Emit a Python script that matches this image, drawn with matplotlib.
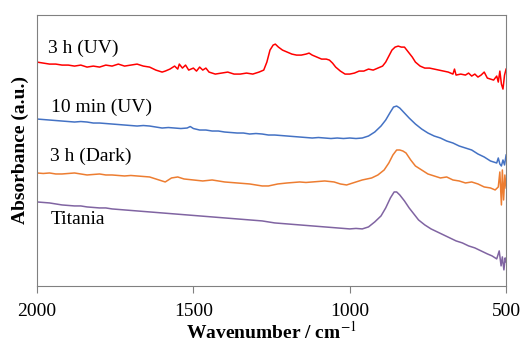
import matplotlib
matplotlib.use('Agg')
import matplotlib.pyplot as plt

plt.rcParams['font.family'] = ['Liberation Serif', 'DejaVu Serif']
plt.rcParams['mathtext.fontset'] = 'stix'

# wavenumber (cm-1) and absorbance (a.u., offset traces)
wn_uv3h = [2000, 1980, 1960, 1940, 1920, 1900, 1880, 1860, 1840, 1820, 1800, 1780, 1760, 1740,
           1720, 1700, 1680, 1660, 1640, 1620, 1600, 1590, 1575, 1560, 1550, 1545, 1535, 1525,
           1515, 1500, 1490, 1480, 1470, 1460, 1450, 1430, 1410, 1390, 1370, 1350, 1330, 1310,
           1290, 1275, 1265, 1255, 1245, 1238, 1228, 1215, 1200, 1185, 1170, 1155, 1140, 1130,
           1120, 1105, 1090, 1075, 1065, 1055, 1045, 1030, 1015, 1000, 985, 970, 955, 940, 925,
           910, 895, 885, 875, 865, 855, 845, 835, 825, 815, 800, 790, 775, 760, 745, 730, 715,
           700, 685, 670, 665, 660, 645, 630, 620, 610, 600, 590, 580, 570, 560, 550, 540, 530,
           525, 520, 515, 510, 505, 500]
uv3h = [2.24, 2.23, 2.22, 2.22, 2.21, 2.21, 2.20, 2.21, 2.19, 2.20, 2.19, 2.21, 2.20, 2.22,
        2.20, 2.21, 2.22, 2.20, 2.19, 2.16, 2.14, 2.15, 2.17, 2.20, 2.17, 2.22, 2.18, 2.21,
        2.16, 2.18, 2.15, 2.19, 2.16, 2.18, 2.14, 2.12, 2.13, 2.14, 2.12, 2.12, 2.13, 2.12,
        2.14, 2.16, 2.24, 2.36, 2.41, 2.42, 2.39, 2.36, 2.34, 2.32, 2.31, 2.31, 2.32, 2.33,
        2.31, 2.29, 2.27, 2.27, 2.26, 2.23, 2.19, 2.15, 2.12, 2.12, 2.13, 2.15, 2.15, 2.17, 2.16,
        2.18, 2.20, 2.24, 2.30, 2.36, 2.39, 2.40, 2.39, 2.39, 2.35, 2.29, 2.24, 2.20, 2.18, 2.18,
        2.17, 2.16, 2.15, 2.14, 2.12, 2.17, 2.11, 2.12, 2.11, 2.13, 2.10, 2.12, 2.09, 2.11, 2.14,
        2.08, 2.07, 2.06, 2.10, 2.04, 2.15, 2.02, 1.97, 2.11, 2.17]

wn_uv10 = [2000, 1980, 1960, 1940, 1920, 1900, 1880, 1860, 1840, 1820, 1800, 1780, 1760, 1740,
           1720, 1700, 1680, 1660, 1640, 1620, 1600, 1580, 1560, 1540, 1520, 1510, 1500, 1480,
           1460, 1440, 1420, 1400, 1380, 1360, 1340, 1320, 1300, 1280, 1260, 1240, 1220, 1200,
           1180, 1160, 1140, 1120, 1100, 1080, 1060, 1040, 1020, 1000, 980, 960,
           940, 920, 900, 885, 870, 860, 850, 840, 825, 810, 790, 770, 750, 730, 710, 690, 670,
           650, 630, 610, 590, 570, 550, 540, 530, 525, 520, 515, 510, 505, 500]
uv10 = [1.67, 1.665, 1.66, 1.655, 1.65, 1.645, 1.64, 1.645, 1.64, 1.63, 1.63, 1.625, 1.62, 1.615,
        1.61, 1.605, 1.60, 1.605, 1.60, 1.59, 1.58, 1.585, 1.58, 1.575, 1.58, 1.595, 1.575, 1.56,
        1.56, 1.55, 1.55, 1.54, 1.535, 1.53, 1.53, 1.52, 1.525, 1.52, 1.51, 1.51, 1.505, 1.50,
        1.495, 1.49, 1.485, 1.48, 1.485, 1.48, 1.475, 1.48, 1.475, 1.48, 1.475, 1.48,
        1.50, 1.54, 1.60, 1.66, 1.74, 1.79, 1.80, 1.78, 1.73, 1.68, 1.62, 1.57, 1.53, 1.50,
        1.48, 1.45, 1.43, 1.40, 1.38, 1.36, 1.32, 1.29, 1.25, 1.24, 1.23, 1.28, 1.22, 1.20,
        1.26, 1.21, 1.31]

wn_dark = [2000, 1980, 1960, 1940, 1920, 1900, 1880, 1860, 1840, 1820, 1800, 1780, 1760, 1740,
           1720, 1700, 1680, 1660, 1640, 1610, 1590, 1570, 1550, 1530, 1500, 1470, 1440, 1420,
           1400, 1380, 1360, 1340, 1320, 1300, 1280, 1260, 1230, 1200, 1180, 1160, 1140, 1120,
           1100, 1080, 1050, 1030, 1010, 990, 960, 930, 910, 890, 875, 862, 850, 840, 830, 820,
           805, 790, 770, 750, 730, 710, 690, 670, 650, 630, 610, 590, 570, 550, 535, 525, 520,
           515, 512, 508, 504, 500]
dark = [1.13, 1.125, 1.13, 1.12, 1.12, 1.125, 1.13, 1.12, 1.11, 1.115, 1.12, 1.11, 1.11, 1.105,
        1.10, 1.105, 1.10, 1.095, 1.09, 1.06, 1.04, 1.08, 1.09, 1.07, 1.06, 1.05, 1.06, 1.05,
        1.04, 1.035, 1.03, 1.025, 1.02, 1.01, 1.00, 1.00, 1.02, 1.03, 1.035, 1.04, 1.035, 1.04,
        1.045, 1.05, 1.04, 1.02, 1.01, 1.03, 1.06, 1.08, 1.11, 1.16, 1.23, 1.31, 1.36, 1.36,
        1.35, 1.33, 1.26, 1.20, 1.16, 1.12, 1.10, 1.08, 1.09, 1.06, 1.05, 1.03, 1.04, 1.02,
        0.99, 0.98, 0.96, 0.99, 1.14, 0.81, 1.16, 0.86, 1.11, 0.98]

wn_tio2 = [2000, 1980, 1960, 1940, 1920, 1900, 1880, 1860, 1840, 1820, 1800, 1780, 1760, 1740,
           1720, 1700, 1680, 1660, 1640, 1620, 1600, 1580, 1560, 1540, 1520, 1500, 1480, 1460,
           1440, 1420, 1400, 1380, 1360, 1340, 1320, 1300, 1280, 1260, 1240, 1220, 1200, 1180,
           1160, 1140, 1120, 1100, 1080, 1060, 1040, 1020, 1000, 980, 960, 940,
           920, 900, 885, 870, 858, 850, 840, 825, 810, 795, 780, 760, 740, 720, 700, 680, 660,
           640, 620, 600, 580, 560, 545, 530, 522, 516, 512, 507, 503, 500]
tio2 = [0.84, 0.835, 0.83, 0.82, 0.81, 0.805, 0.80, 0.80, 0.79, 0.785, 0.78, 0.78, 0.77, 0.765,
        0.76, 0.755, 0.75, 0.745, 0.74, 0.735, 0.73, 0.725, 0.72, 0.715, 0.71, 0.705, 0.70, 0.695,
        0.69, 0.685, 0.68, 0.675, 0.67, 0.665, 0.66, 0.655, 0.65, 0.64, 0.63, 0.625, 0.62, 0.615,
        0.61, 0.605, 0.60, 0.595, 0.59, 0.585, 0.58, 0.575, 0.57, 0.575, 0.57, 0.59,
        0.64, 0.70, 0.78, 0.88, 0.94, 0.94, 0.91, 0.85, 0.78, 0.72, 0.66, 0.61, 0.57, 0.54,
        0.51, 0.48, 0.45, 0.43, 0.40, 0.38, 0.35, 0.32, 0.30, 0.27, 0.35, 0.20, 0.29, 0.16,
        0.28, 0.24]

labels = ['3 h (UV)', '10 min (UV)', '3 h (Dark)', 'Titania']

fig = plt.figure(figsize=(5.25, 3.44), dpi=100)
ax = fig.add_axes([0.0705, 0.169, 0.8935, 0.787])

ax.plot(wn_uv3h, uv3h, color='#FF0000', lw=1.1)
ax.plot(wn_uv10, uv10, color='#4472C4', lw=1.1)
ax.plot(wn_dark, dark, color='#ED7D31', lw=1.1)
ax.plot(wn_tio2, tio2, color='#8064A2', lw=1.1)

ax.text(1965, 2.38, labels[0], fontsize=14, va='center')
ax.text(1955, 1.79, labels[1], fontsize=14, va='center')
ax.text(1958, 1.30, labels[2], fontsize=14, va='center')
ax.text(1955, 0.66, labels[3], fontsize=14, va='center')

ax.set_xlim(2000, 500)
ax.set_ylim(0, 2.71)
ax.set_xticks([2000, 1500, 1000, 500])
ax.set_yticks([])
ax.tick_params(axis='x', direction='out', length=5, color='#808080', labelsize=14, pad=7)
for s in ax.spines.values():
    s.set_color('#808080')
ax.set_xlabel(r'Wavenumber / cm$^{-1}$', fontsize=14, fontweight='bold', labelpad=1)
ax.set_ylabel('Absorbance (a.u.)', fontsize=14, fontweight='bold', labelpad=6)

plt.savefig('out.png', dpi=100)
